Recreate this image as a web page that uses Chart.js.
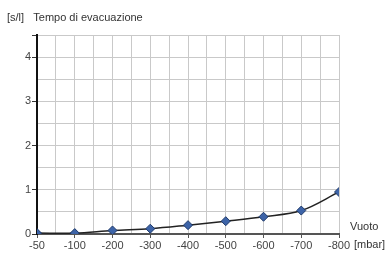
<!DOCTYPE html>
<html><head><meta charset="utf-8">
<script src="https://cdn.jsdelivr.net/npm/chart.js@4/dist/chart.umd.min.js"></script>
<style>html,body{margin:0;padding:0;background:#fff}#wrap{width:390px;height:255px}</style>
</head><body><div id="wrap"><canvas id="c" width="390" height="255"></canvas></div>
<script>
const categories = ['-50','-100','-200','-300','-400','-500','-600','-700','-800'];
const evacTime = [0.02, 0.02, 0.08, 0.12, 0.20, 0.29, 0.39, 0.53, 0.95];
const yTickLabels = ['0','1','2','3','4'];
const titleText = '[s/l]   Tempo di evacuazione';
const xAxisName = 'Vuoto';
const xUnit = '[mbar]';

const FONT = '"Liberation Sans", Arial, sans-serif';
const pts = evacTime.map((v,i)=>({x:i,y:v}));

const textPlugin = {
  id:'texts',
  afterDraw(chart){
    const ctx = chart.ctx;
    ctx.save();
    ctx.fillStyle = '#333';
    ctx.font = '11px ' + FONT;
    ctx.textBaseline = 'middle';
    ctx.textAlign = 'left';
    ctx.fillText(titleText, 7, 18);
    ctx.fillText(xAxisName, 350, 227);
    ctx.fillText(xUnit, 354, 245);
    ctx.restore();
  }
};

new Chart(document.getElementById('c'), {
  type:'scatter',
  data:{datasets:[{
    data: pts,
    showLine:true,
    borderColor:'#222',
    borderWidth:1.5,
    tension:0.35,
    pointStyle:'rectRot',
    pointRadius:4.5,
    pointBackgroundColor:'#3d64a8',
    pointBorderColor:'#1f3a6a',
    pointBorderWidth:1
  }]},
  options:{
    responsive:false,
    animation:false,
    layout:{padding:{left:0,right:51,top:35,bottom:0}},
    plugins:{legend:{display:false},tooltip:{enabled:false}},
    scales:{
      x:{
        type:'linear', min:0, max:8,
        afterFit(s){ s.height = 21; },
        afterBuildTicks(s){ const t=[]; for(let v=0; v<=8.0001; v+=0.5) t.push({value:v}); s.ticks=t; },
        ticks:{
          autoSkip:false, maxRotation:0, padding:1,
          color:'#444', font:{family:FONT,size:11},
          callback(v){ return Number.isInteger(v) ? categories[v] : ''; }
        },
        grid:{
          color:'#c9c9c9', lineWidth:1, tickLength:4,
          tickColor(ctx){ return (ctx.tick && Number.isInteger(ctx.tick.value)) ? '#555' : 'rgba(0,0,0,0)'; }
        },
        border:{color:'#555', width:2}
      },
      y:{
        type:'linear', min:0, max:4.5,
        afterFit(s){ s.width = 37; },
        afterBuildTicks(s){ const t=[]; for(let v=0; v<=4.5001; v+=0.5) t.push({value:v}); s.ticks=t; },
        ticks:{
          autoSkip:false, padding:1,
          color:'#444', font:{family:FONT,size:11},
          callback(v){ return Number.isInteger(v) ? yTickLabels[v] : ''; }
        },
        grid:{
          color:'#c9c9c9', lineWidth:1, tickLength:5,
          tickColor(ctx){ return (ctx.tick && (Number.isInteger(ctx.tick.value) || ctx.tick.value===4.5)) ? '#333' : 'rgba(0,0,0,0)'; }
        },
        border:{color:'#111', width:2}
      }
    }
  },
  plugins:[textPlugin]
});
</script></body></html>
